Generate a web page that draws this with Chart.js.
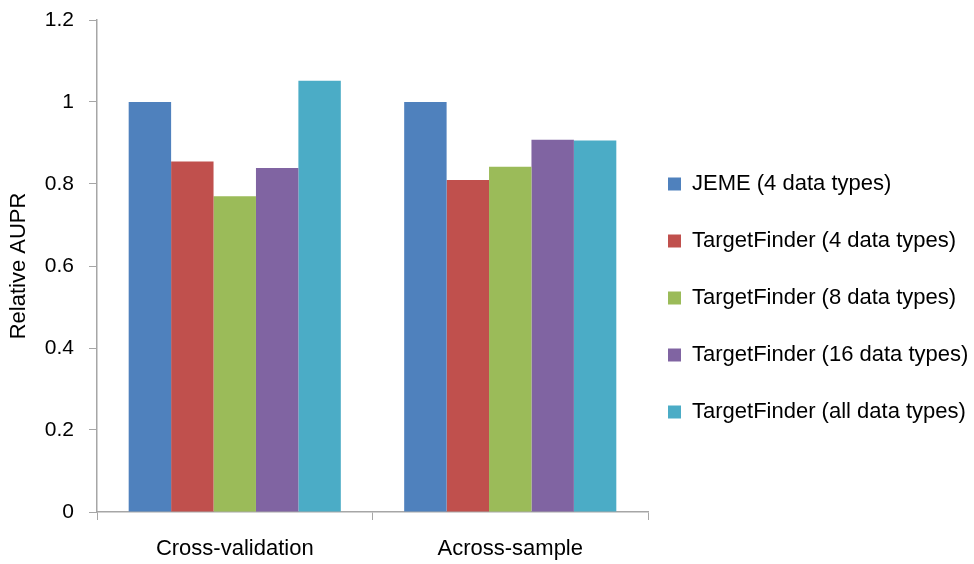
<!DOCTYPE html>
<html>
<head>
<meta charset="utf-8">
<script src="https://cdn.jsdelivr.net/npm/chart.js@4"></script>
<style>
  html, body { margin: 0; padding: 0; background: #fff; }
  #wrap { width: 974px; height: 564px; }
</style>
</head>
<body>
<div id="wrap"><canvas id="aupr-chart"></canvas></div>
<script>
const categories = ['Cross-validation', 'Across-sample'];
const seriesNames = [
    'JEME (4 data types)',
    'TargetFinder (4 data types)',
    'TargetFinder (8 data types)',
    'TargetFinder (16 data types)',
    'TargetFinder (all data types)'
];
const jeme4 = [1.0, 1.0];
const tf4 = [0.855, 0.81];
const tf8 = [0.77, 0.842];
const tf16 = [0.839, 0.908];
const tfAll = [1.052, 0.906];
const yTicks = [0, 0.2, 0.4, 0.6, 0.8, 1, 1.2];

const blueColor = '#4f81bd';
const redColor = '#c0504d';
const greenColor = '#9bbb59';
const purpleColor = '#8064a2';
const cyanColor = '#4bacc6';
const axisColor = '#a6a6a6';

const seriesValues = [jeme4, tf4, tf8, tf16, tfAll];
const seriesColors = [blueColor, redColor, greenColor, purpleColor, cyanColor];

const family = '"Liberation Sans", Arial, sans-serif';

// the legend draws its column at left + labels.padding, so pull it back towards
// the plot to get the original gap, and nudge it down a little
const legendShift = {
    id: 'legendShift',
    afterLayout(chart) {
        const lg = chart.legend;
        const dx = (chart.chartArea.right + 20) - (lg.left + lg.options.labels.padding);
        lg.left += dx;
        lg.right = chart.width;
        lg.top += 6;
        lg.bottom += 6;
    }
};

new Chart(document.getElementById('aupr-chart'), {
    type: 'bar',
    data: {
        labels: categories,
        datasets: seriesNames.map((name, i) => ({
            label: name,
            data: seriesValues[i],
            backgroundColor: seriesColors[i],
            borderWidth: 0,
            categoryPercentage: 0.77,
            barPercentage: 1.0
        }))
    },
    options: {
        responsive: true,
        maintainAspectRatio: false,
        animation: false,
        layout: { padding: { top: 20, right: 16, bottom: 0, left: 0 } },
        plugins: {
            tooltip: { enabled: false },
            legend: {
                display: true,
                position: 'right',
                maxWidth: 310,
                labels: {
                    boxWidth: 13,
                    boxHeight: 13,
                    padding: 35,
                    color: '#000',
                    font: { family: family, size: 22 }
                }
            }
        },
        scales: {
            x: {
                grid: { drawOnChartArea: false, drawTicks: true, tickLength: 8, color: axisColor, offset: true },
                border: { color: axisColor, width: 1.5 },
                ticks: { color: '#000', font: { family: family, size: 22 }, padding: 16 },
                afterFit: (scale) => { scale.height = 52; }
            },
            y: {
                min: 0,
                max: 1.2,
                afterBuildTicks: (scale) => { scale.ticks = yTicks.map(v => ({ value: v })); },
                grid: { drawOnChartArea: false, drawTicks: true, tickLength: 8, color: axisColor },
                border: { color: axisColor, width: 1.5 },
                ticks: { color: '#000', font: { family: family, size: 21 }, padding: 15, callback: (v) => String(v) },
                title: { display: true, text: 'Relative AUPR', color: '#000', font: { family: family, size: 22 }, padding: { top: 6, bottom: 0 } },
                afterFit: (scale) => {
                    scale.width = 97;
                    scale.paddingTop = 0;
                    scale.paddingBottom = 0;
                }
            }
        }
    },
    plugins: [legendShift]
});
</script>
</body>
</html>
